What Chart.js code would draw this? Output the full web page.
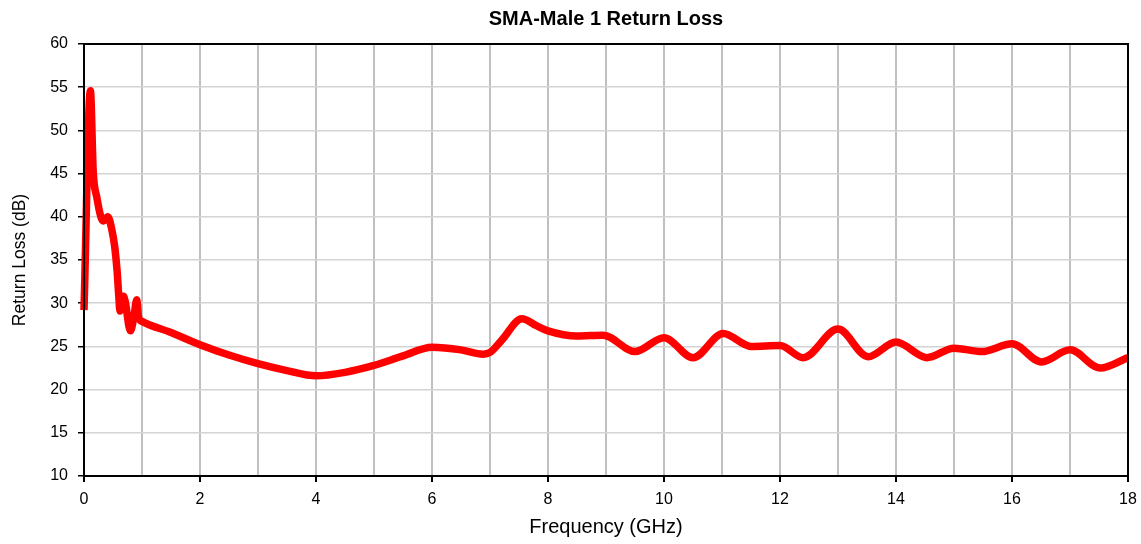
<!DOCTYPE html>
<html><head><meta charset="utf-8">
<script src="https://cdn.jsdelivr.net/npm/chart.js@4.4.1/dist/chart.umd.min.js"></script>
<style>html,body{margin:0;padding:0;background:#fff}#wrap{width:1141px;height:544px}</style>
</head><body><div id="wrap"><canvas id="c" width="1141" height="544"></canvas></div>
<script>
const freqGHz = [0, 0.11, 0.16, 0.22, 0.29, 0.33, 0.41, 0.48, 0.53, 0.57, 0.60, 0.62, 0.68, 0.71, 0.80, 0.86, 0.91, 0.94, 1.0,
  1.5, 2, 2.5, 3, 3.5, 4, 4.5, 5, 5.5, 6, 6.5, 6.88, 7.0, 7.2, 7.55, 7.8, 8.0, 8.5, 8.95, 9.5, 10, 10.5, 11.02, 11.5, 12,
  12.4, 13, 13.52, 14, 14.53, 15, 15.48, 16, 16.51, 17, 17.52, 18];
const returnLossDb = [29.2, 54.6, 45.1, 42.3, 40.0, 39.5, 40.0, 38.5, 36.5, 33.8, 30.8, 29.1, 30.8, 30.2, 26.8, 28.4, 30.4, 28.4, 27.9,
  26.6, 25.2, 24.0, 23.0, 22.2, 21.6, 22.0, 22.8, 23.9, 24.9, 24.6, 24.1, 24.3, 25.7, 28.2, 27.4, 26.8, 26.2, 26.3, 24.4, 26.0, 23.7, 26.5, 25.0, 25.1,
  23.7, 27.0, 23.8, 25.5, 23.7, 24.8, 24.4, 25.3, 23.2, 24.6, 22.5, 23.7];
const titleText = 'SMA-Male 1 Return Loss';
const xTitle = 'Frequency (GHz)';
const yTitle = 'Return Loss (dB)';

const points = freqGHz.map((f, i) => ({x: f, y: returnLossDb[i]}));
const FONT = "'Liberation Sans', Arial, sans-serif";

const boxPlugin = {
  id: 'box',
  afterDraw(chart) {
    const a = chart.chartArea, ctx = chart.ctx;
    ctx.save();
    ctx.strokeStyle = '#000';
    ctx.lineWidth = 2;
    ctx.strokeRect(a.left, a.top, a.right - a.left, a.bottom - a.top);
    ctx.restore();
  }
};

new Chart(document.getElementById('c'), {
  type: 'line',
  data: { datasets: [{ data: points, borderColor: '#ff0000', borderWidth: 7.5, pointRadius: 0,
    cubicInterpolationMode: 'monotone', fill: false, clip: false }] },
  options: {
    responsive: false, animation: false,
    layout: { padding: { left: 0, right: 13, top: 0, bottom: 0 } },
    plugins: {
      legend: { display: false }, tooltip: { enabled: false },
      title: { display: true, text: titleText, color: '#000', fullSize: false,
        font: { family: FONT, size: 20, weight: 'bold', lineHeight: 1.2 }, padding: { top: 7.7, bottom: 12.3 } }
    },
    scales: {
      x: {
        type: 'linear', min: 0, max: 18,
        afterFit(s) { s.height = 68; s.paddingLeft = 0; s.paddingRight = 0; },
        ticks: { stepSize: 1, color: '#000', font: { family: FONT, size: 16 }, padding: 8, maxRotation: 0, autoSkip: false,
          callback: v => (v % 2 === 0 ? String(v) : '') },
        grid: { color: '#c0c0c0', lineWidth: 2, tickLength: 6,
          tickColor: ctx => (ctx.tick && ctx.tick.value % 2 === 0 ? '#000' : 'rgba(0,0,0,0)') },
        border: { color: '#000', width: 2 },
        title: { display: true, text: xTitle, color: '#000', font: { family: FONT, size: 20, lineHeight: 1.2 }, padding: { top: 4.5, bottom: 4.5 } }
      },
      y: {
        min: 10, max: 60,
        afterFit(s) { s.width = 84; s.paddingTop = 0; s.paddingBottom = 0; },
        ticks: { stepSize: 5, color: '#000', font: { family: FONT, size: 16 }, padding: 10 },
        grid: { color: '#d4d4d4', lineWidth: 1.5, tickLength: 6, tickColor: '#000' },
        border: { color: '#000', width: 2 },
        title: { display: true, text: yTitle, color: '#000', font: { family: FONT, size: 17.5, lineHeight: 1.2 }, padding: { top: 9.5, bottom: 9.5 } }
      }
    }
  },
  plugins: [boxPlugin]
});
</script></body></html>
